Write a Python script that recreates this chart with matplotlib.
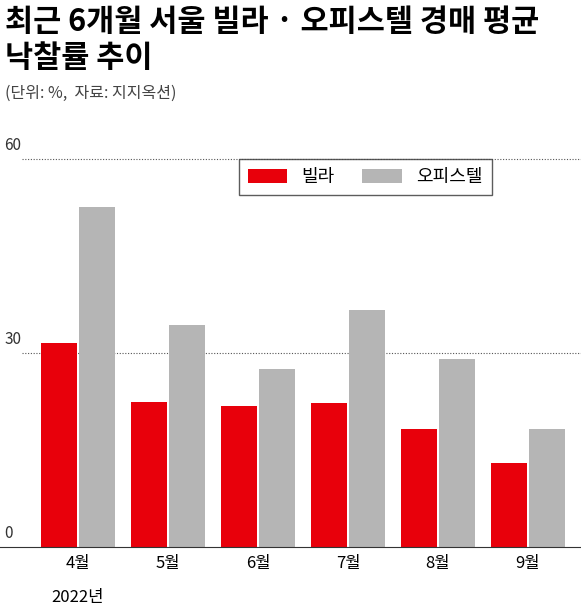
import matplotlib.pyplot as plt
import numpy as np

plt.rcParams['font.family'] = ['Noto Sans CJK KR', 'DejaVu Sans']

months = ['4월', '5월', '6월', '7월', '8월', '9월']
villa = [31.5, 22.4, 21.8, 22.3, 18.2, 13.0]
officetel = [52.6, 34.3, 27.5, 36.6, 29.1, 18.2]

fig = plt.figure(figsize=(5.81, 6.09), dpi=100)
ax = fig.add_axes([0, 62 / 609, 1, 407 / 609])

x = np.arange(len(months))
w = 0.40
ax.bar(x - 0.21, villa, w, color='#e8000b', label='빌라')
ax.bar(x + 0.21, officetel, w, color='#b5b5b5', label='오피스텔')

ax.set_xlim(-0.867, 5.589)
ax.set_ylim(0, 62.9)
for v in (30, 60):
    ax.axhline(v, xmin=0.038, color='#555555', lw=0.8, ls=(0, (1, 1.5)), zorder=0)
for v in (0, 30, 60):
    ax.text(-0.82, v + 0.8, str(v), fontsize=11, color='#333333', va='bottom')

for s in ('top', 'left', 'right'):
    ax.spines[s].set_visible(False)
ax.spines['bottom'].set_color('#333333')
ax.set_yticks([])
ax.set_xticks(x)
ax.set_xticklabels(months, fontsize=12)
ax.tick_params(axis='x', length=0, pad=6)
ax.text(0, -0.123, '2022년', transform=ax.get_xaxis_transform(), ha='center', va='center', fontsize=12)

ax.legend(loc='upper left', bbox_to_anchor=(0.395, 0.975), ncol=2, fontsize=13,
          frameon=True, fancybox=False, edgecolor='#333333', handlelength=2.2,
          handleheight=0.9, columnspacing=1.5, borderpad=0.5)

fig.text(0.008, 0.99, '최근 6개월 서울 빌라 · 오피스텔 경매 평균\n낙찰률 추이', fontsize=22,
         fontweight='bold', va='top', ha='left', linespacing=1.15)
fig.text(0.008, 0.86, '(단위: %,  자료: 지지옥션)', fontsize=11.5, color='#444444', va='top')

fig.savefig('out.png', dpi=100)
